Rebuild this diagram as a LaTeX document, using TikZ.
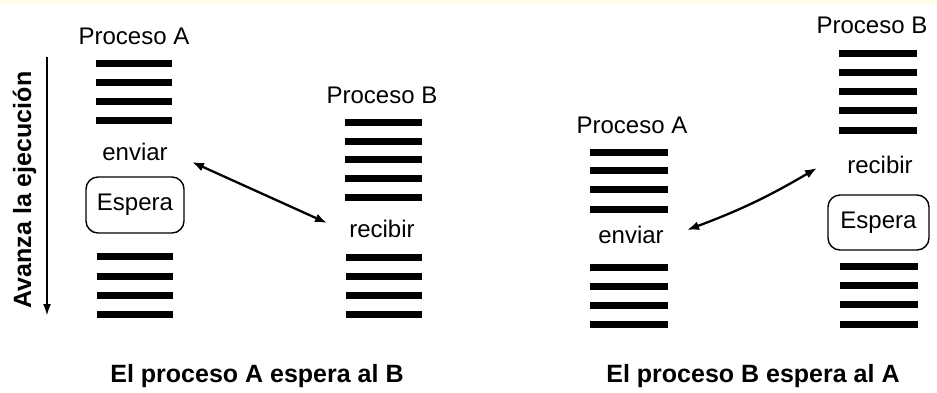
\documentclass[tikz,border=0pt]{standalone}
\usepackage{fontspec}
\setmainfont{Liberation Sans}
\usetikzlibrary{arrows.meta}
\definecolor{topstrip}{RGB}{255,253,231}
\tikzset{
  bar/.style={line width=7pt},
  lbl/.style={font=\fontsize{24}{28}\selectfont, inner sep=0pt, anchor=base},
  captxt/.style={font=\fontsize{25}{30}\selectfont\bfseries, inner sep=0pt, anchor=base},
  espera/.style={draw, line width=1.4pt, rounded corners=12pt, minimum width=98pt, minimum height=56pt, inner sep=0pt, font=\fontsize{24}{28}\selectfont},
  conn/.style={line width=2.3pt, {Latex[length=12pt,width=9pt]}-{Latex[length=12pt,width=9pt]}},
  timearrow/.style={line width=2.2pt, -{Latex[length=12pt,width=8pt]}}
}
\begin{document}
\begin{tikzpicture}[x=1pt,y=-1pt]
\useasboundingbox (0,0) rectangle (937,392);
\fill[white] (0,0) rectangle (937,392);
\fill[topstrip] (0,0) rectangle (937,4);

% ---------- Left panel ----------
\coordinate (tA) at (47,57);
\coordinate (tB) at (47,316);
\draw[timearrow] (tA) -- (tB);
\node[captxt, rotate=90] (avanza) at (31,190) {Avanza la ejecución};

\node[lbl] (pAL) at (134,44.5) {Proceso A};
\foreach \y in {63,82,101,120} \draw[bar] (96,\y) -- (172,\y);
\node[lbl] (envL) at (135,160) {enviar};
\node[espera] (espL) at (135,205) {Espera};
\foreach \y in {256,276,295,314} \draw[bar] (97,\y) -- (173,\y);

\node[lbl] (pBL) at (382,103) {Proceso B};
\foreach \y in {122,141,159.5,178.5,197.5} \draw[bar] (345,\y) -- (422,\y);
\node[lbl] (recL) at (382,237) {recibir};
\foreach \y in {257,276,295,314} \draw[bar] (346,\y) -- (422,\y);

\coordinate (eL) at (192,162);
\coordinate (rL) at (327,223);
\draw[conn] (eL) -- (rL);

\node[captxt] (capL) at (257,382) {El proceso A espera al B};

% ---------- Right panel ----------
\node[lbl] (pAR) at (632,133) {Proceso A};
\foreach \y in {152,170.5,189.5,209} \draw[bar] (590,\y) -- (668,\y);
\node[lbl] (envR) at (631,243) {enviar};
\foreach \y in {267,286,305,324} \draw[bar] (590,\y) -- (668,\y);

\node[lbl] (pBR) at (872,33) {Proceso B};
\foreach \y in {53,72,91,110,130} \draw[bar] (839,\y) -- (917,\y);
\node[lbl] (recR) at (880,173) {recibir};
\node[espera, minimum width=101pt, minimum height=55pt] (espR) at (878.5,222.5) {Espera};
\foreach \y in {266,285.7,304,324} \draw[bar] (840,\y) -- (918,\y);

\coordinate (eR) at (687,230);
\coordinate (rR) at (817,168);
\draw[conn] (eR) to[bend right=5] (rR);

\node[captxt] (capR) at (753,382) {El proceso B espera al A};
\end{tikzpicture}
\end{document}
